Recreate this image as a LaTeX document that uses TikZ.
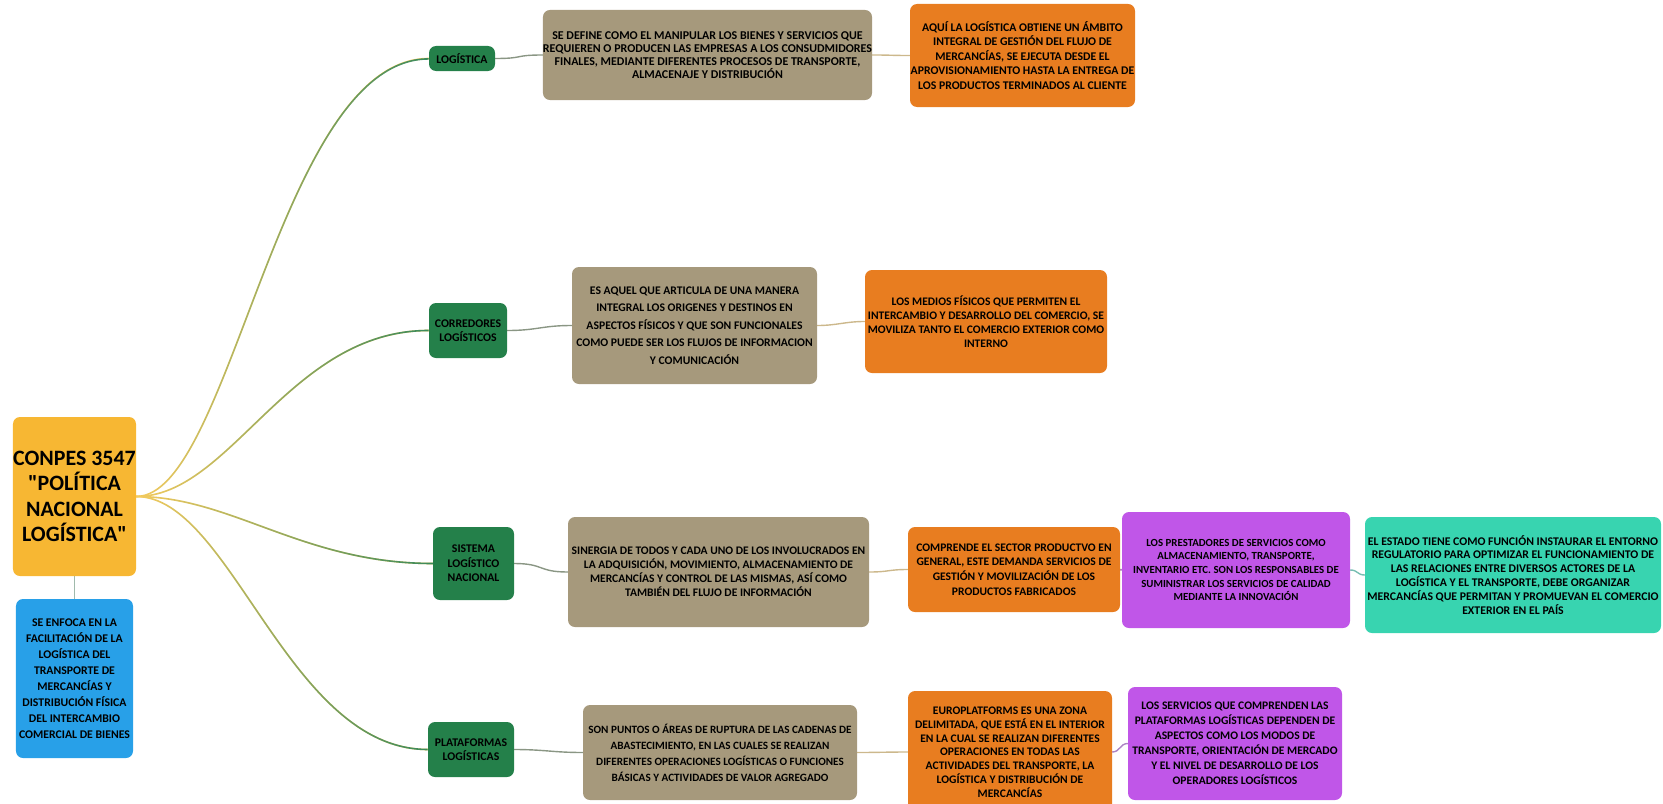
\documentclass[tikz,border=0pt]{standalone}
\usepackage{fontspec}
\setmainfont{Carlito}[Ligatures=TeXOff]
\usetikzlibrary{fadings,backgrounds}

\definecolor{rootfill}{RGB}{247,183,51}
\definecolor{bluefill}{RGB}{40,160,232}
\definecolor{greenfill}{RGB}{36,128,74}
\definecolor{tanfill}{RGB}{166,153,124}
\definecolor{orangefill}{RGB}{232,125,32}
\definecolor{purplefill}{RGB}{192,86,232}
\definecolor{tealfill}{RGB}{56,212,176}
\definecolor{stemyellow}{RGB}{246,204,96}
\definecolor{stemgreen}{RGB}{58,138,92}
\definecolor{linkgrey}{RGB}{138,150,132}
\definecolor{linktan}{RGB}{204,184,140}
\definecolor{linkpurple}{RGB}{172,132,196}
\definecolor{linkteal}{RGB}{120,190,178}
\definecolor{linkblue}{RGB}{160,186,172}

\begin{document}
\begin{tikzpicture}[x=1bp,y=-1bp,
  fs/.style 2 args={font=\fontsize{#1}{#2}\selectfont\bfseries},
  box/.style={rounded corners=7bp, inner sep=0pt, align=center, text=black},
  topic/.style={box, fill=greenfill, fs={11.8}{14.5}},
  defn/.style={box, fill=tanfill},
  detail/.style={box, fill=orangefill},
  extra/.style={box, fill=purplefill},
  state/.style={box, fill=tealfill},
  stem/.style={line width=1.6bp, stemyellow},
  stemtip/.style={line width=1.6bp, stemgreen, path fading=west},
  link/.style={line width=1.4bp}
]
\useasboundingbox (0,0) rectangle (1663,804);

% central topic and its note
\node[box, fill=rootfill, minimum width=123bp, minimum height=159bp,
  fs={22}{25.5}] (root) at (74.5,496.5)
  {CONPES 3547\\"POLÍTICA\\NACIONAL\\LOGÍSTICA"};
\node[box, fill=bluefill, minimum width=117bp, minimum height=159bp,
  fs={11.8}{16}] (note) at (74.5,678.5)
  {SE ENFOCA EN LA\\FACILITACIÓN DE LA\\LOGÍSTICA DEL\\TRANSPORTE DE\\MERCANCÍAS Y\\DISTRIBUCIÓN FÍSICA\\DEL INTERCAMBIO\\COMERCIAL DE BIENES};

% branch 1
\node[topic, minimum width=66bp, minimum height=25bp] (g1) at (462,58.5) {LOGÍSTICA};
\node[defn, minimum width=325bp, minimum height=90bp, fs={12}{13.2}] (b1) at (707.5,55)
  {SE DEFINE COMO EL MANIPULAR LOS BIENES Y SERVICIOS QUE\\REQUIEREN O PRODUCEN LAS EMPRESAS A LOS CONSUDMIDORES\\FINALES, MEDIANTE DIFERENTES PROCESOS DE TRANSPORTE,\\ALMACENAJE Y DISTRIBUCIÓN};
\node[detail, minimum width=225bp, minimum height=103bp, fs={11.8}{14.5}] (o1) at (1022.5,55.5)
  {AQUÍ LA LOGÍSTICA OBTIENE UN ÁMBITO\\INTEGRAL DE GESTIÓN DEL FLUJO DE\\MERCANCÍAS, SE EJECUTA DESDE EL\\APROVISIONAMIENTO HASTA LA ENTREGA DE\\LOS PRODUCTOS TERMINADOS AL CLIENTE};

% branch 2
\node[topic, minimum width=78bp, minimum height=55bp] (g2) at (468,330.5) {CORREDORES\\LOGÍSTICOS};
\node[defn, minimum width=245bp, minimum height=117bp, fs={11.7}{17.5}] (b2) at (694.5,325.5)
  {ES AQUEL QUE ARTICULA DE UNA MANERA\\INTEGRAL LOS ORIGENES Y DESTINOS EN\\ASPECTOS FÍSICOS Y QUE SON FUNCIONALES\\COMO PUEDE SER LOS FLUJOS DE INFORMACION\\Y COMUNICACIÓN};
\node[detail, minimum width=242bp, minimum height=103bp, fs={11.6}{14.2}] (o2) at (986,321.5)
  {LOS MEDIOS FÍSICOS QUE PERMITEN EL\\INTERCAMBIO Y DESARROLLO DEL COMERCIO, SE\\MOVILIZA TANTO EL COMERCIO EXTERIOR COMO\\INTERNO};

% branch 3
\node[topic, minimum width=81bp, minimum height=73bp] (g3) at (473.5,563.5) {SISTEMA\\LOGÍSTICO\\NACIONAL};
\node[defn, minimum width=301bp, minimum height=110bp, fs={11.6}{14.2}] (b3) at (718.5,572)
  {SINERGIA DE TODOS Y CADA UNO DE LOS INVOLUCRADOS EN\\LA ADQUISICIÓN, MOVIMIENTO, ALMACENAMIENTO DE\\MERCANCÍAS Y CONTROL DE LAS MISMAS, ASÍ COMO\\TAMBIÉN DEL FLUJO DE INFORMACIÓN};
\node[detail, minimum width=212bp, minimum height=85bp, fs={11.6}{14.8}] (o3) at (1014,569.5)
  {COMPRENDE EL SECTOR PRODUCTVO EN\\GENERAL, ESTE DEMANDA SERVICIOS DE\\GESTIÓN Y MOVILIZACIÓN DE LOS\\PRODUCTOS FABRICADOS};
\node[extra, minimum width=228bp, minimum height=116bp, fs={10.9}{13.6}] (p1) at (1236,570)
  {LOS PRESTADORES DE SERVICIOS COMO\\ALMACENAMIENTO, TRANSPORTE,\\INVENTARIO ETC. SON LOS RESPONSABLES DE\\SUMINISTRAR LOS SERVICIOS DE CALIDAD\\MEDIANTE LA INNOVACIÓN};
\node[state, minimum width=296bp, minimum height=116bp, fs={11.8}{14}] (t1) at (1513,575)
  {EL ESTADO TIENE COMO FUNCIÓN INSTAURAR EL ENTORNO\\REGULATORIO PARA OPTIMIZAR EL FUNCIONAMIENTO DE\\LAS RELACIONES ENTRE DIVERSOS ACTORES DE LA\\LOGÍSTICA Y EL TRANSPORTE, DEBE ORGANIZAR\\MERCANCÍAS QUE PERMITAN Y PROMUEVAN EL COMERCIO\\EXTERIOR EN EL PAÍS};

% branch 4
\node[topic, minimum width=86bp, minimum height=55bp] (g4) at (471,749.5) {PLATAFORMAS\\LOGÍSTICAS};
\node[defn, minimum width=274bp, minimum height=95bp, fs={11.2}{16}] (b4) at (720,752.5)
  {SON PUNTOS O ÁREAS DE RUPTURA DE LAS CADENAS DE\\ABASTECIMIENTO, EN LAS CUALES SE REALIZAN\\DIFERENTES OPERACIONES LOGÍSTICAS O FUNCIONES\\BÁSICAS Y ACTIVIDADES DE VALOR AGREGADO};
\node[detail, minimum width=204bp, minimum height=122bp, fs={11.6}{13.8}] (o4) at (1010,752)
  {EUROPLATFORMS ES UNA ZONA\\DELIMITADA, QUE ESTÁ EN EL INTERIOR\\EN LA CUAL SE REALIZAN DIFERENTES\\OPERACIONES EN TODAS LAS\\ACTIVIDADES DEL TRANSPORTE, LA\\LOGÍSTICA Y DISTRIBUCIÓN DE\\MERCANCÍAS};
\node[extra, minimum width=214bp, minimum height=113bp, fs={11.6}{15}] (p2) at (1235,743.5)
  {LOS SERVICIOS QUE COMPRENDEN LAS\\PLATAFORMAS LOGÍSTICAS DEPENDEN DE\\ASPECTOS COMO LOS MODOS DE\\TRANSPORTE, ORIENTACIÓN DE MERCADO\\Y EL NIVEL DE DESARROLLO DE LOS\\OPERADORES LOGÍSTICOS};

% connectors, drawn under the boxes
\begin{scope}[on background layer]
  % stems from the central topic: yellow at the root, green at the topic
  \foreach \g/\a/\b in {g1/95/150, g2/95/140, g3/95/130, g4/95/140} {
    \draw[stem] (root.east) .. controls +(\a,0) and +(-\b,0) .. (\g.west);
    \draw[stemtip] (root.east) .. controls +(\a,0) and +(-\b,0) .. (\g.west);
  }
  \draw[link, linkblue] (root.south) -- (note.north);
  % topic -> definition
  \foreach \u/\v in {g1/b1, g2/b2, g3/b3, g4/b4}
    \draw[link, linkgrey] (\u.east) .. controls +(30,0) and +(-30,0) .. (\v.west);
  % definition -> detail
  \foreach \u/\v in {b1/o1, b2/o2, b3/o3, b4/o4}
    \draw[link, linktan] (\u.east) .. controls +(20,0) and +(-20,0) .. (\v.west);
  % detail -> further notes
  \draw[link, linkpurple] (o3.east) .. controls +(6,0) and +(-6,0) .. (p1.west);
  \draw[link, linkpurple] (o4.east) .. controls +(8,0) and +(-8,0) .. (p2.west);
  \draw[link, linkteal] (p1.east) .. controls +(8,0) and +(-8,0) .. (t1.west);
\end{scope}
\end{tikzpicture}
\end{document}
